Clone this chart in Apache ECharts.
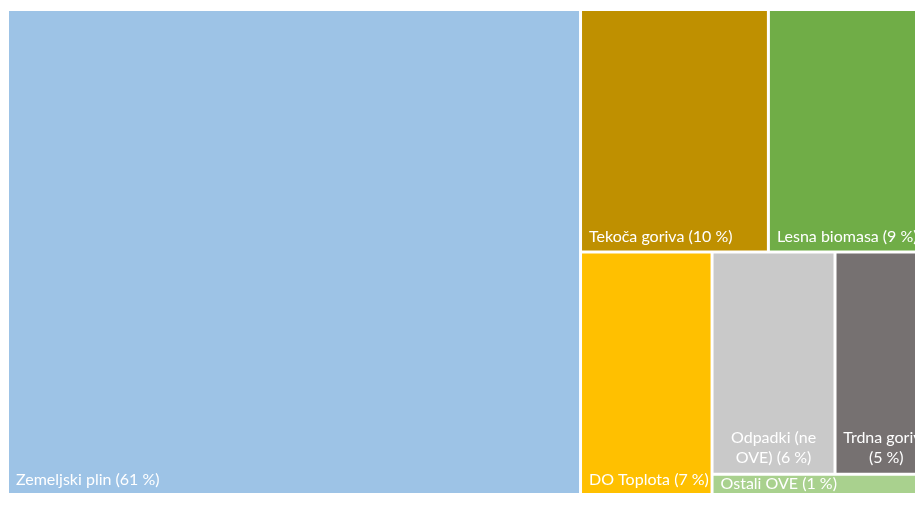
<!DOCTYPE html>
<html>
<head>
<meta charset="utf-8">
<script src="https://cdn.jsdelivr.net/npm/echarts@6/dist/echarts.min.js"></script>
<style>
  html, body { margin: 0; padding: 0; background: #ffffff; }
  #chart { width: 915px; height: 506px; }
</style>
</head>
<body>
<div id="chart"></div>
<script>
// Energy sources, share of final use (%)
const categories = ['Zemeljski plin', 'Tekoča goriva', 'Lesna biomasa', 'DO Toplota', 'Odpadki (ne OVE)', 'Trdna goriva', 'Ostali OVE'];
const shares = [61, 10, 9, 7, 6, 5, 1];
const colors = ['#9DC3E6', '#BF9000', '#70AD47', '#FFC000', '#C9C9C9', '#767171', '#A9D18E'];

// narrow tiles get their label wrapped onto centred lines
const stackedLabels = ['Odpadki (ne OVE)', 'Trdna goriva'];
const wrapChars = 12;
const LINE_H = 17;        // single-line labels
const WRAP_LINE_H = 20;   // wrapped labels
const PAD_BOTTOM = 5;

function wrapWords(text, maxChars) {
  const lines = [];
  let cur = '';
  text.split(' ').forEach(w => {
    const next = cur ? cur + ' ' + w : w;
    if (next.length > maxChars && cur) { lines.push(cur); cur = w; }
    else cur = next;
  });
  if (cur) lines.push(cur);
  return lines;
}

const seriesData = categories.map((name, i) => ({
  name: name,
  value: shares[i],
  itemStyle: { color: colors[i] }
}));

const chart = echarts.init(document.getElementById('chart'), null, { renderer: 'canvas' });
chart.setOption({
  animation: false,
  backgroundColor: '#ffffff',
  tooltip: { show: false },
  series: [{
    type: 'treemap',
    left: 9,
    top: 11,
    width: 927,
    height: 482,
    squareRatio: 1.084,
    roam: false,
    nodeClick: false,
    breadcrumb: { show: false },
    itemStyle: { borderWidth: 0, gapWidth: 3, borderColor: '#ffffff' },
    label: {
      show: true,
      position: 'insideTopLeft',
      distance: 0,
      padding: [0, 7, 0, 7],
      color: '#ffffff',
      fontFamily: 'Lato',
      fontSize: 16,
      lineHeight: LINE_H,
      overflow: 'none',
      formatter: p => {
        const text = p.name + ' (' + p.value + ' %)';
        if (stackedLabels.indexOf(p.name) < 0) return text;
        return wrapWords(text, wrapChars).map(l => '{c|' + l + '}').join('\n');
      },
      rich: {
        c: { align: 'center', color: '#ffffff', fontFamily: 'Lato', fontSize: 16, lineHeight: WRAP_LINE_H }
      }
    },
    // push each label down to the bottom edge of its tile
    labelLayout: p => {
      const n = String(p.text || '').split('\n').length;
      const textH = n > 1 ? n * WRAP_LINE_H : LINE_H;
      const pad = Math.max(0, Math.min(PAD_BOTTOM, p.rect.height - textH));
      return { dy: p.rect.height - textH - pad };
    },
    emphasis: { disabled: true },
    data: seriesData
  }]
});
</script>
</body>
</html>
